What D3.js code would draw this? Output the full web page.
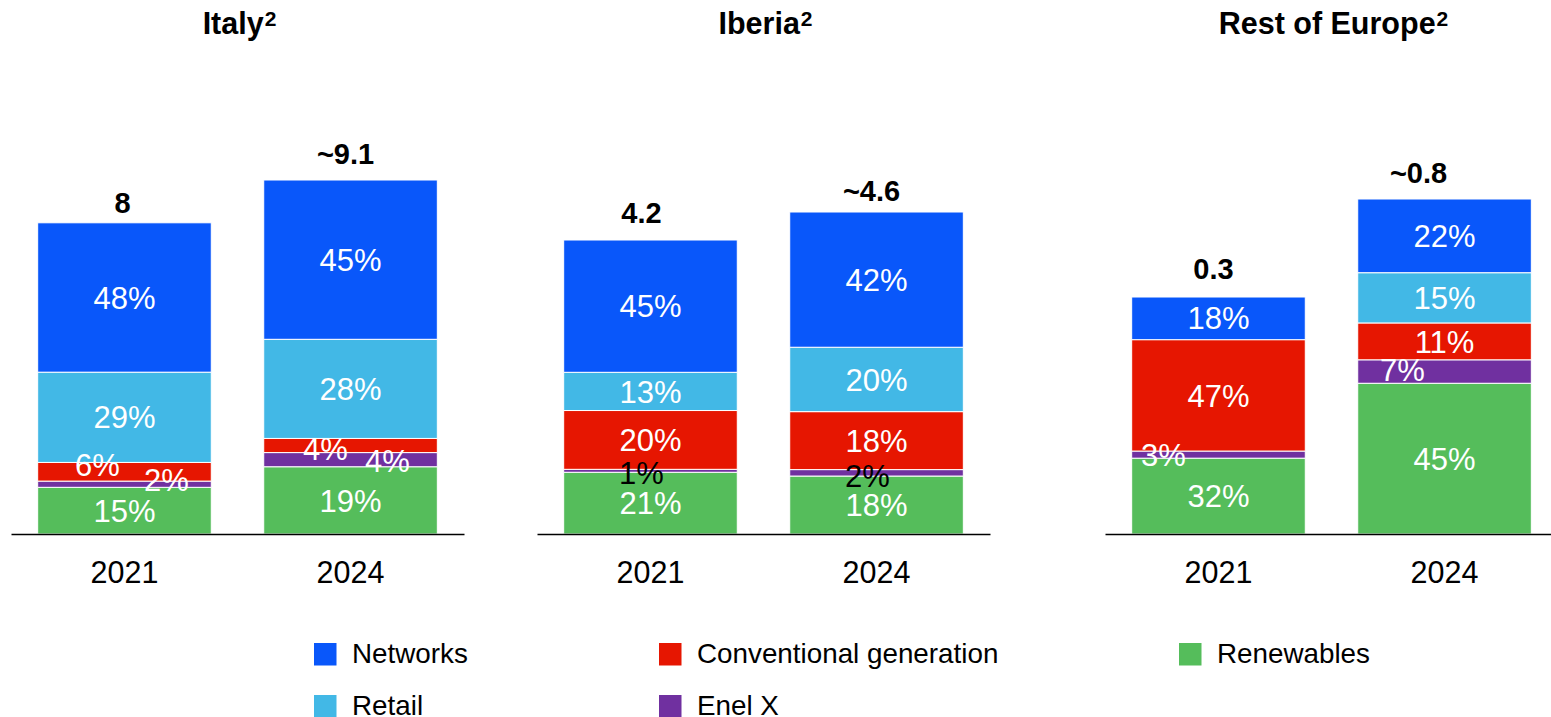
<!DOCTYPE html>
<html>
<head>
<meta charset="utf-8">
<script src="https://cdn.jsdelivr.net/npm/d3@7"></script>
<style>
  html, body { margin: 0; padding: 0; background: #fff; }
  svg { display: block; font-family: "Liberation Sans", Arial, Helvetica, sans-serif; }
</style>
</head>
<body>
<svg id="chart" width="1551" height="717"></svg>
<script>
// ---------------- data ----------------
const regions = ["Italy", "Iberia", "Rest of Europe"];
const categories = ["2021", "2024"];
const totals = [[8, 9.1], [4.2, 4.6], [0.3, 0.8]];
const totalLabels = [["8", "~9.1"], ["4.2", "~4.6"], ["0.3", "~0.8"]];
const networks     = [[48, 45], [45, 42], [18, 22]];
const retail       = [[29, 28], [13, 20], [0, 15]];
const conventional = [[6, 4],   [20, 18], [47, 11]];
const enelX        = [[2, 4],   [1, 2],   [3, 7]];
const renewables   = [[15, 19], [21, 18], [32, 45]];
const seriesNames = ["Networks", "Retail", "Conventional generation", "Enel X", "Renewables"];

// ---------------- styling / layout ----------------
const colors = {
  "Networks": "#0957FA",
  "Retail": "#42B8E6",
  "Conventional generation": "#E61601",
  "Enel X": "#7030A0",
  "Renewables": "#55BD5B"
};
const stackOrder = ["Renewables", "Enel X", "Conventional generation", "Retail", "Networks"];
const seriesData = {
  "Networks": networks, "Retail": retail, "Conventional generation": conventional,
  "Enel X": enelX, "Renewables": renewables
};
const baseline = 534;
const panelX = [11, 537, 1105];
const panelW = 453;
// per-panel height scale settings (domain start, top pixel of the tallest bar)
const panelDomainMin = [0, 0, -0.909];
const panelTopPx = [180, 212, 199];
// label nudges for small segments: key "panel-bar-series" -> [dx, dy, color]
const nudges = {
  "0-0-Conventional generation": [-27, -7, "#fff"],
  "0-0-Enel X": [42, -4, "#fff"],
  "0-1-Conventional generation": [-25, 3, "#fff"],
  "0-1-Enel X": [37, 1, "#fff"],
  "1-0-Enel X": [-9, 2, "#000"],
  "1-1-Enel X": [-9, 3, "#000"],
  "2-0-Enel X": [-55, 0, "#fff"],
  "2-1-Enel X": [-42, -2, "#fff"]
};
const totalNudges = [[[-2, -10], [-5, -16]], [[-9, -17], [-5, -11]], [[-5, -18], [-26, -16]]];

const svg = d3.select("#chart");

regions.forEach((region, p) => {
  const g = svg.append("g");
  const x = d3.scaleBand().domain(categories)
    .range([panelX[p], panelX[p] + panelW])
    .paddingInner(0.232).paddingOuter(0.118);
  const maxT = d3.max(totals[p]);
  const y = d3.scaleLinear().domain([panelDomainMin[p], maxT]).range([baseline, panelTopPx[p]]);

  // title
  const cx = panelX[p] + panelW / 2 + 2;
  const t = g.append("text")
    .attr("x", cx).attr("y", 34)
    .attr("text-anchor", "middle")
    .attr("font-weight", "bold").attr("font-size", 30.5).attr("fill", "#000");
  t.append("tspan").text(region);
  t.append("tspan").attr("font-size", 21).attr("dy", -8).attr("dx", 1).text("2");

  categories.forEach((cat, b) => {
    const top = y(totals[p][b]);
    const pct = d3.scaleLinear().domain([0, 100]).range([baseline, top]);
    let cum = 0;
    stackOrder.forEach(s => {
      const v = seriesData[s][p][b];
      const y0 = pct(cum), y1 = pct(cum + v);
      cum += v;
      if (v <= 0) return;
      g.append("rect")
        .attr("x", x(cat)).attr("width", x.bandwidth())
        .attr("y", y1).attr("height", y0 - y1)
        .attr("fill", colors[s])
        .attr("stroke", "#fff").attr("stroke-width", 1);
    });
    // labels
    cum = 0;
    stackOrder.forEach(s => {
      const v = seriesData[s][p][b];
      const y0 = pct(cum), y1 = pct(cum + v);
      cum += v;
      if (v <= 0) return;
      const nd = nudges[p + "-" + b + "-" + s] || [0, 0, "#fff"];
      g.append("text")
        .attr("x", x(cat) + x.bandwidth() / 2 + nd[0])
        .attr("y", (y0 + y1) / 2 + nd[1])
        .attr("dy", "0.36em")
        .attr("text-anchor", "middle")
        .attr("font-size", 31)
        .attr("fill", nd[2])
        .text(v + "%");
    });
    // total label
    g.append("text")
      .attr("x", x(cat) + x.bandwidth() / 2 + totalNudges[p][b][0])
      .attr("y", top + totalNudges[p][b][1])
      .attr("text-anchor", "middle")
      .attr("font-weight", "bold").attr("font-size", 29).attr("fill", "#000")
      .text(totalLabels[p][b]);
  });

  // axis
  const ax = g.append("g").attr("transform", `translate(0,${baseline})`)
    .call(d3.axisBottom(x).tickSize(0).tickSizeOuter(0).tickPadding(27));
  ax.select(".domain").attr("stroke", "#000").attr("stroke-width", 1.6);
  ax.selectAll(".tick text")
    .attr("font-size", 30.5)
    .attr("font-family", "Liberation Sans, Arial, sans-serif")
    .attr("fill", "#000");
});

// legend
const legendRows = [
  ["Networks", "Conventional generation", "Renewables"],
  ["Retail", "Enel X"]
];
const legendColX = [314, 659, 1179];
const legendRowY = [643, 695];
legendRows.forEach((row, r) => {
  row.forEach((name, c) => {
    const lg = svg.append("g");
    lg.append("rect")
      .attr("x", legendColX[c]).attr("y", legendRowY[r])
      .attr("width", 22.5).attr("height", 22.5)
      .attr("fill", colors[name]);
    lg.append("text")
      .attr("x", legendColX[c] + 38).attr("y", legendRowY[r] + 19.5)
      .attr("font-size", 27.8).attr("fill", "#000")
      .text(name);
  });
});
</script>
</body>
</html>
